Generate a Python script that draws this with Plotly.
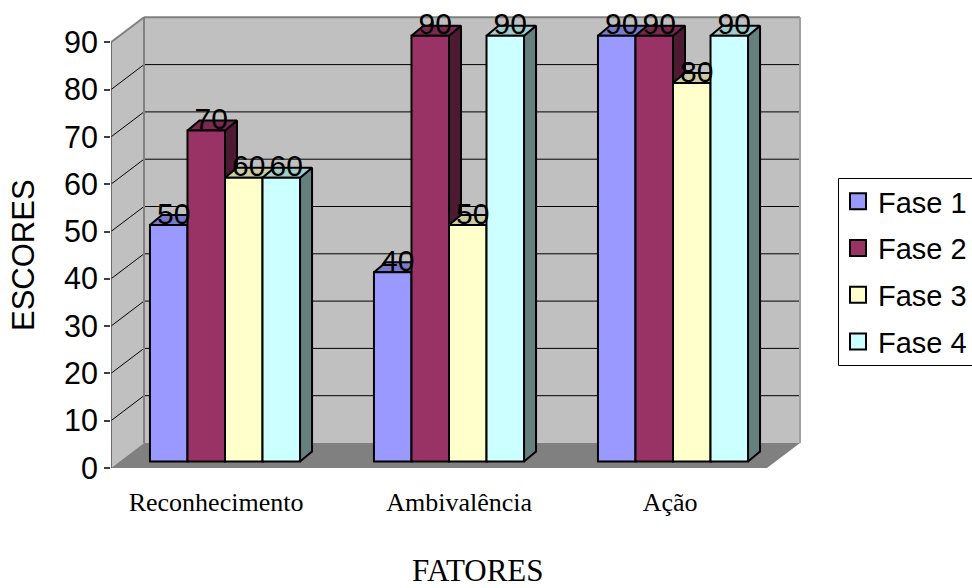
import plotly.graph_objects as go

# Chart data
categories = ["Reconhecimento", "Ambivalência", "Ação"]
series_names = ["Fase 1", "Fase 2", "Fase 3", "Fase 4"]
fase_1 = [50, 40, 90]
fase_2 = [70, 90, 90]
fase_3 = [60, 50, 80]
fase_4 = [60, 90, 90]
series_values = [fase_1, fase_2, fase_3, fase_4]
y_ticks = list(range(0, 100, 10))

# Palette: front face, top face, side face
front = ["#9999FF", "#993366", "#FFFFCC", "#CCFFFF"]
top = ["#7A7ACC", "#7A2952", "#CCCCA3", "#A3CCCC"]
side = ["#4D4D80", "#4D1A33", "#808066", "#668080"]

# Page geometry and axis scales; the plot area runs to the page edge so the legend sits inside it
W, H = 972, 588
PLOT_L, PLOT_R, PLOT_T, PLOT_B = 111, 972, 10, 468
PX_PER_CAT = 224
PX_PER_UNIT = 4.73
FIRST_CENTER = 225
x_lo = (PLOT_L - FIRST_CENTER) / PX_PER_CAT
x_hi = (PLOT_R - FIRST_CENTER) / PX_PER_CAT
y_hi = (PLOT_B - PLOT_T) / PX_PER_UNIT


def dx(px):
    return px / PX_PER_CAT


def dy(px):
    return px / PX_PER_UNIT


def paper_x(px):
    return (px - PLOT_L) / (PLOT_R - PLOT_L)


def paper_y(px):
    return (PLOT_B - px) / (PLOT_B - PLOT_T)


# Oblique projection of the box: wall depth and bar depth
WALL_X, WALL_Y = dx(33), dy(25)
BAR_X, BAR_Y = dx(12), dy(10)
BASE = dy(6.5)
BARGAP = 0.33
BAR_W = (1 - BARGAP) / len(series_names)
FLOOR_R = dx(767 - FIRST_CENTER)
EDGE = 2


def path(points):
    return "M" + "L".join(f"{a},{b}" for a, b in points) + "Z"


shapes = []


def poly(points, fill):
    shapes.append(dict(
        type="path", path=path(points), xref="x", yref="y", layer="below",
        fillcolor=fill, line=dict(color=fill, width=0),
    ))


def seg(x0, y0, x1, y1, color, width):
    shapes.append(dict(
        type="line", x0=x0, y0=y0, x1=x1, y1=y1, xref="x", yref="y",
        layer="below", line=dict(color=color, width=width),
    ))


# Walls and floor of the box
y_max = y_ticks[-1]
poly([(x_lo, 0), (x_lo + WALL_X, WALL_Y), (x_lo + WALL_X, y_max + WALL_Y), (x_lo, y_max)], "#C0C0C0")
poly([(x_lo + WALL_X, WALL_Y), (FLOOR_R + WALL_X, WALL_Y), (FLOOR_R + WALL_X, y_max + WALL_Y),
      (x_lo + WALL_X, y_max + WALL_Y)], "#C0C0C0")
poly([(x_lo, 0), (FLOOR_R, 0), (FLOOR_R + WALL_X, WALL_Y), (x_lo + WALL_X, WALL_Y)], "#808080")

# Gridlines across both walls
for t in y_ticks[1:-1]:
    seg(x_lo, t, x_lo + WALL_X, t + WALL_Y, "#000000", 1)
    seg(x_lo + WALL_X, t + WALL_Y, FLOOR_R + WALL_X, t + WALL_Y, "#000000", 1)

# Wall borders and the value axis line
seg(x_lo, y_max, x_lo + WALL_X, y_max + WALL_Y, "#808080", 2)
seg(x_lo + WALL_X, y_max + WALL_Y, FLOOR_R + WALL_X, y_max + WALL_Y, "#808080", 2)
seg(x_lo + WALL_X, WALL_Y, x_lo + WALL_X, y_max + WALL_Y, "#808080", 2)
seg(FLOOR_R + WALL_X, WALL_Y, FLOOR_R + WALL_X, y_max + WALL_Y, "#A0A0A0", 2)
seg(x_lo, 0, x_lo, y_max, "#505050", 1.5)

# Legend frame, open past the right edge of the page
shapes.append(dict(
    type="rect", xref="paper", yref="paper", layer="below",
    x0=paper_x(838.5), x1=paper_x(985), y0=paper_y(178.5), y1=paper_y(365.5),
    fillcolor="#FFFFFF", line=dict(color="#000000", width=1),
))

fig = go.Figure()

# Top and side faces, behind the front faces of the bars
for s, values in enumerate(series_values):
    for c, v in enumerate(values):
        left = c - (1 - BARGAP) / 2 + s * BAR_W
        right = left + BAR_W
        y_top = v + BASE
        fig.add_trace(go.Scatter(
            x=[right, right + BAR_X, right + BAR_X, right, right],
            y=[BASE, BASE + BAR_Y, y_top + BAR_Y, y_top, BASE],
            mode="lines", fill="toself", fillcolor=side[s],
            line=dict(color="#000000", width=EDGE),
            showlegend=False, hoverinfo="skip", zorder=0,
        ))
        fig.add_trace(go.Scatter(
            x=[left, right, right + BAR_X, left + BAR_X, left],
            y=[y_top, y_top, y_top + BAR_Y, y_top + BAR_Y, y_top],
            mode="lines", fill="toself", fillcolor=top[s],
            line=dict(color="#000000", width=EDGE),
            showlegend=False, hoverinfo="skip", zorder=0,
        ))

# Front faces
for s, values in enumerate(series_values):
    fig.add_trace(go.Bar(
        x=list(range(len(categories))), y=values, base=BASE,
        name=series_names[s], marker=dict(color=front[s], line=dict(color="#000000", width=EDGE)),
        showlegend=False, zorder=1,
    ))

# Value labels above each bar
LABEL_DX, LABEL_DY = dx(5), dy(9)
for s, values in enumerate(series_values):
    fig.add_trace(go.Scatter(
        x=[c - (1 - BARGAP) / 2 + (s + 0.5) * BAR_W + LABEL_DX for c in range(len(values))],
        y=[v + BASE + LABEL_DY for v in values],
        mode="text", text=[str(v) for v in values], textposition="middle center",
        textfont=dict(family="Liberation Sans", size=30, color="#000000"),
        showlegend=False, hoverinfo="skip", cliponaxis=False, zorder=2,
    ))

# Legend entries
for s, name in enumerate(series_names):
    fig.add_trace(go.Scatter(
        x=[None], y=[None], mode="markers", name=name, legendgroup=name,
        marker=dict(symbol="square", size=16, color=front[s], line=dict(color="#000000", width=2)),
    ))

label_offsets = [-0.04, 1.045, 1.987]

fig.update_layout(
    width=W, height=H, autosize=False,
    margin=dict(l=PLOT_L, r=W - PLOT_R, t=PLOT_T, b=H - PLOT_B, pad=0),
    paper_bgcolor="#FFFFFF", plot_bgcolor="rgba(0,0,0,0)",
    barmode="group", bargap=BARGAP, bargroupgap=0,
    shapes=shapes, showlegend=True,
    legend=dict(
        x=paper_x(838), y=paper_y(176),
        xanchor="left", yanchor="top", borderwidth=0,
        bgcolor="rgba(0,0,0,0)", font=dict(family="Liberation Sans", size=29, color="#000000"),
        traceorder="grouped", tracegroupgap=6,
        entrywidth=87, entrywidthmode="pixels",
    ),
    annotations=[
        dict(text="ESCORES", xref="paper", yref="paper", x=paper_x(23), y=paper_y(255),
             textangle=-90, showarrow=False, xanchor="center", yanchor="middle",
             font=dict(family="Liberation Sans", size=31, color="#000000")),
        dict(text="FATORES", xref="paper", yref="paper", x=paper_x(478), y=paper_y(570),
             showarrow=False, xanchor="center", yanchor="middle",
             font=dict(family="Liberation Serif", size=31, color="#000000")),
    ],
    xaxis=dict(
        range=[x_lo, x_hi], showgrid=False, zeroline=False, showline=False,
        tickmode="array", tickvals=label_offsets, ticktext=categories, ticks="",
        ticklabelstandoff=16,
        tickfont=dict(family="Liberation Serif", size=26, color="#000000"),
    ),
    yaxis=dict(
        range=[0, y_hi], showgrid=False, zeroline=False, showline=False,
        tickmode="array", tickvals=y_ticks, ticks="outside", ticklen=6, tickwidth=1.5,
        tickcolor="#404040",
        tickfont=dict(family="Liberation Sans", size=30.5, color="#000000"),
    ),
)

fig.write_html("out.html")
